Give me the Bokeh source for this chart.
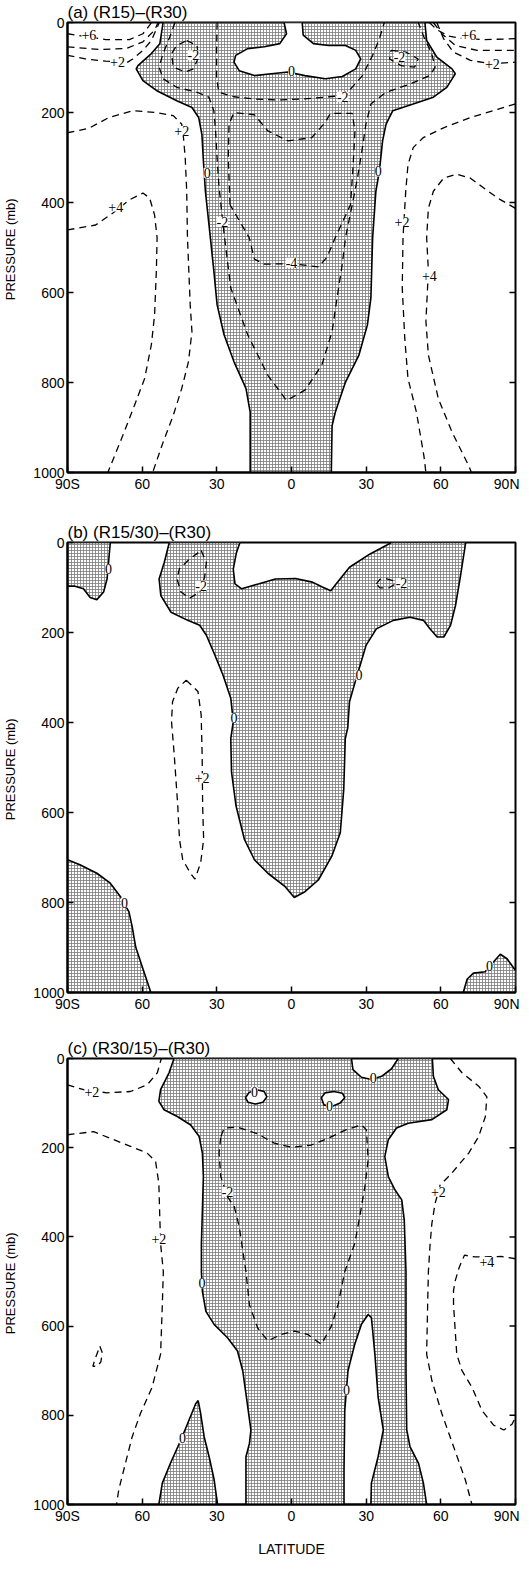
from bokeh.plotting import figure
from bokeh.models import Range1d, LabelSet, ColumnDataSource, FixedTicker
from bokeh.layouts import column
from bokeh.embed import file_html
from bokeh.resources import INLINE

FONT = "Liberation Sans"

lat_ticks = [-90, -60, -30, 0, 30, 60, 90]
lat_tick_labels = ["90S", "60", "30", "0", "30", "60", "90N"]
p_ticks = [0, 200, 400, 600, 800, 1000]
right_ticks = [200, 400, 600, 800]

# ---------------- panel (a) ----------------
a_zero_left_lat = [-51.6, -52.9, -56.3, -61.7, -62.4, -59.7, -54.3, -46.1, -40.0, -37.3, -36.0, -35.3, -34.6, -32.6, -31.2, -29.9, -27.1, -23.1, -18.3, -16.6, -16.6]
a_zero_left_p = [0, 47, 69, 96, 103, 129, 151, 174, 189, 211, 249, 316, 375, 478, 552, 627, 694, 754, 813, 866, 1000]
a_zero_right_lat = [53.6, 54.3, 58.4, 64.5, 65.8, 62.4, 57.0, 48.9, 40.7, 38.0, 36.6, 35.3, 33.9, 32.6, 31.9, 30.5, 27.1, 21.7, 17.6, 16.3, 16.0]
a_zero_right_p = [0, 40, 77, 103, 114, 144, 166, 181, 196, 226, 263, 331, 375, 478, 612, 672, 739, 799, 866, 896, 1000]
a_hole_lat = [-3.0, -2.0, -4.7, -10.9, -17.6, -22.4, -23.1, -21.0, -14.9, -8.1, -1.4, 5.4, 13.6, 20.4, 25.8, 27.8, 25.8, 21.7, 14.9, 8.8, 4.7, 4.3]
a_hole_p = [0, 25, 47, 54, 58, 73, 88, 107, 118, 114, 110, 118, 125, 120, 103, 81, 62, 51, 51, 47, 28, 0]

a_p6L_lat = [-90, -74.6, -65.1, -59.7, -57.0, -56.3]
a_p6L_p = [25, 38, 38, 25, 6, 0]
a_p4L_top_lat = [-90, -77.3, -66.5, -59.7, -55.0, -53.6]
a_p4L_top_p = [54, 60, 58, 43, 17, 0]
a_p2L_top_lat = [-90, -82.8, -74.6, -65.8, -63.8, -59.7, -56.3, -53.9, -53.1]
a_p2L_top_p = [73, 81, 86, 88, 81, 62, 40, 10, 0]
a_p2L_lat = [-90, -81.4, -73.3, -63.8, -54.3, -47.5, -44.1, -43.4, -42.7, -42.1, -41.8, -40.7, -40.0, -41.4, -44.1, -47.5, -51.6, -55.8]
a_p2L_p = [245, 235, 211, 196, 200, 207, 226, 256, 301, 375, 478, 627, 687, 754, 813, 873, 933, 1000]
a_p4L_lat = [-90, -78.7, -71.9, -65.1, -59.7, -57.0, -55.0, -54.0, -54.3, -55.0, -56.3, -59.0, -63.1, -67.8, -73.8]
a_p4L_p = [461, 450, 424, 394, 379, 390, 428, 478, 552, 649, 716, 791, 851, 918, 1000]

a_p6R_lat = [55.4, 58.4, 63.1, 67.9, 72.0, 77.3, 90]
a_p6R_p = [0, 16, 30, 35, 36, 38, 36]
a_p4R_top_lat = [57.0, 60.4, 65.8, 74.6, 90]
a_p4R_top_p = [0, 25, 51, 62, 62]
a_p2R_top_lat = [58.4, 61.1, 65.1, 71.9, 80.1, 90]
a_p2R_top_p = [0, 36, 66, 84, 92, 88]
a_p2R_lat = [90, 82.8, 71.9, 61.1, 52.9, 48.9, 46.8, 45.9, 44.8, 44.5, 45.5, 46.8, 50.2, 53.2, 54.0]
a_p2R_p = [181, 193, 211, 234, 256, 278, 316, 375, 478, 590, 701, 791, 866, 963, 1000]
a_p4R_lat = [90, 82.8, 77.3, 71.9, 66.5, 61.1, 57.0, 55.0, 54.3, 55.0, 54.0, 55.0, 59.0, 64.5, 71.2, 72.3]
a_p4R_p = [413, 390, 368, 346, 337, 346, 375, 413, 478, 552, 664, 739, 836, 910, 985, 1000]

a_m2_loopL_lat = [-42.1, -38.0, -37.3, -39.4, -42.7, -47.5, -48.2, -46.1, -42.1]
a_m2_loopL_p = [40, 51, 77, 103, 110, 99, 69, 51, 40]
a_m2_loopR_lat = [40.0, 46.1, 50.9, 49.5, 44.1, 39.4, 40.0]
a_m2_loopR_p = [62, 66, 81, 99, 96, 81, 62]
a_m2_outer_lat = [-46.8, -48.9, -51.6, -53.2, -51.6, -46.1, -38.0, -33.2, -31.2, -30.5, -29.9, -29.2, -28.2, -26.9, -24.4, -17.6, -9.5, -2.0, 5.4, 12.2, 16.3, 18.3, 20.4, 21.7, 24.4, 26.5, 28.5, 29.9, 31.9, 38.0, 47.5, 55.6, 57.7, 56.3, 53.2, 50.9]
a_m2_outer_p = [0, 32, 69, 99, 125, 144, 155, 166, 196, 241, 301, 360, 413, 478, 590, 694, 784, 840, 817, 761, 687, 612, 537, 478, 405, 346, 278, 226, 181, 155, 137, 118, 99, 69, 32, 0]
a_m2_inner_lat = [-29.9, -30.1, -30.1, -29.2, -23.1, -14.9, -5.4, 4.1, 13.6, 19.0, 23.7, 28.5, 32.6, 35.3, 37.3]
a_m2_inner_p = [0, 62, 122, 155, 165, 170, 172, 170, 166, 163, 148, 118, 73, 36, 0]
a_m4_lat = [-24.7, -25.4, -25.1, -23.1, -14.9, -9.5, -1.4, 8.1, 13.6, 15.6, 24.4, 25.5, 24.7, 23.7, 17.6, 14.2, 10.9, 0, -10.9, -14.9, -17.0, -24.7]
a_m4_p = [405, 301, 226, 200, 205, 241, 263, 256, 222, 202, 202, 241, 323, 405, 478, 522, 543, 536, 537, 526, 478, 405]

a_lab_lat = [-81.4, -69.9, -44.1, -70.6, -33.9, 34.9, 0, -39.4, 43.4, 20.6, -27.8, 71.2, 80.7, 44.4, 55.4, 0]
a_lab_p = [28, 88, 241, 409, 334, 331, 107, 73, 77, 165, 443, 28, 92, 443, 563, 534]
a_lab_txt = ["+6", "+2", "+2", "+4", "0", "0", "0", "-2", "-2", "-2", "-2", "+6", "+2", "+2", "+4", "-4"]

# ---------------- panel (b) ----------------
b_tl_lat = [-90, -72.8, -73.5, -74.1, -75.5, -78.2, -80.9, -83.6, -87.0, -90]
b_tl_p = [0, 0, 44, 81, 110, 127, 122, 103, 97, 97]
b_main_lat = [-49.1, -51.1, -53.2, -52.5, -48.4, -41.7, -36.9, -34.2, -30.8, -27.5, -24.4, -23.4, -24.4, -24.1, -22.3, -18.9, -14.9, -9.5, -2.7, 1.1, 5.4, 10.8, 16.2, 19.6, 21.0, 21.6, 22.6, 23.3, 26.0, 30.0, 34.1, 40.9, 47.6, 53.0, 55.7, 58.5, 61.2, 63.9, 65.9, 67.9, 70.0, 40.2, 31.4, 23.3, 17.9, 15.8, 12.4, 8.4, 1.6, -6.5, -13.3, -20.0, -22.7, -23.4, -22.1, -20.7]
b_main_p = [0, 44, 81, 118, 155, 173, 184, 206, 250, 295, 346, 398, 436, 510, 585, 660, 705, 735, 764, 789, 776, 750, 697, 645, 548, 436, 412, 354, 302, 228, 192, 173, 166, 173, 192, 210, 210, 184, 140, 74, 0, 0, 26, 55, 92, 107, 99, 88, 80, 81, 92, 103, 92, 59, 22, 0]
b_bl_lat = [-90, -85.0, -78.2, -72.8, -68.7, -65.3, -64.0, -62.6, -59.9, -56.5, -90]
b_bl_p = [705, 716, 735, 757, 787, 821, 854, 899, 944, 1000, 1000]
b_br_lat = [69.0, 70.6, 73.1, 77.8, 80.5, 83.9, 86.6, 90, 90]
b_br_p = [1000, 970, 957, 954, 936, 915, 925, 951, 1000]
b_m2L_lat = [-36.3, -34.2, -34.9, -36.9, -41.0, -44.4, -46.0, -45.1, -41.0, -36.3]
b_m2L_p = [18, 44, 77, 110, 124, 110, 81, 59, 37, 18]
b_m2R_lat = [34.1, 35.5, 38.0, 41.0, 41.5, 39.0, 35.5, 34.1]
b_m2R_p = [92, 82, 80, 85, 93, 101, 101, 92]
b_p2_lat = [-42.3, -37.6, -36.3, -35.9, -35.7, -35.3, -36.5, -38.8, -40.6, -43.7, -45.0, -45.7, -47.1, -48.2, -47.8, -45.7, -42.3]
b_p2_p = [306, 331, 383, 473, 585, 660, 712, 748, 735, 705, 660, 585, 473, 398, 354, 324, 306]
b_lab_lat = [-73.5, -36.3, 44.2, -23.1, 27.1, -35.9, -67.1, 79.6]
b_lab_p = [59, 96, 90, 390, 295, 524, 800, 940]
b_lab_txt = ["0", "-2", "-2", "0", "0", "+2", "0", "0"]

# ---------------- panel (c) ----------------
c_main_lat = [-47.2, 24.1, 24.7, 28.1, 32.1, 36.2, 40.2, 42.9, 56.6, 57.0, 59.0, 63.1, 62.4, 56.4, 46.9, 42.2, 38.9, 37.5, 38.9, 41.6, 44.3, 45.3, 46.0, 46.0, 46.3, 47.6, 51.0, 53.0, 54.3, 31.9, 32.1, 34.8, 36.9, 34.8, 33.5, 32.1, 30.8, 28.1, 25.4, 22.7, 21.4, 21.1, 21.1, -18.3, -18.3, -16.9, -16.3, -18.3, -19.6, -21.7, -25.7, -31.1, -34.4, -35.8, -36.2, -36.2, -35.8, -35.4, -35.8, -37.1, -40.5, -45.9, -51.2, -53.3, -52.6, -49.2]
c_main_p = [0, 0, 25, 42, 47, 40, 23, 0, 0, 40, 70, 92, 115, 137, 145, 156, 182, 220, 265, 295, 317, 362, 478, 700, 833, 870, 907, 952, 1000, 1000, 952, 893, 833, 759, 663, 581, 574, 596, 641, 700, 789, 922, 1000, 1000, 893, 863, 833, 752, 700, 656, 626, 596, 567, 522, 478, 415, 340, 265, 212, 175, 149, 130, 115, 96, 70, 32]
c_spike_lat = [-53.3, -51.9, -48.6, -44.5, -41.2, -38.5, -37.5, -36.5, -35.1, -33.1, -31.1, -29.7]
c_spike_p = [1000, 952, 907, 856, 811, 774, 767, 796, 848, 893, 944, 1000]
c_hole1_lat = [-18.5, -17.0, -14.0, -11.0, -9.9, -11.5, -14.5, -17.5, -18.5]
c_hole1_p = [88, 76, 70, 74, 86, 98, 102, 98, 88]
c_hole2_lat = [12.0, 13.5, 17.0, 20.5, 21.4, 19.5, 16.0, 13.0, 12.0]
c_hole2_p = [88, 77, 74, 78, 88, 100, 108, 104, 88]
c_p2_top_lat = [-90, -83.5, -74.1, -64.7, -58.0, -53.9, -52.3]
c_p2_top_p = [59, 70, 77, 74, 59, 32, 0]
c_p2L_lat = [-90, -79.5, -72.8, -64.7, -58.0, -54.6, -53.3, -53.0, -52.6, -51.5, -51.9, -52.6, -56.0, -60.7, -64.0, -66.7, -69.4, -70.3]
c_p2L_p = [171, 164, 179, 197, 212, 231, 280, 340, 415, 478, 552, 663, 737, 796, 848, 907, 967, 1000]
c_small_lat = [-77.0, -76.0, -76.6, -78.0, -79.8, -79.0, -77.0]
c_small_p = [645, 660, 680, 690, 690, 675, 645]
c_m2_lat = [-28.4, -27.0, -21.7, -13.6, -6.9, -0.1, 7.9, 14.7, 21.4, 28.1, 30.1, 30.8, 29.5, 27.4, 25.4, 21.4, 18.7, 16.0, 12.0, 6.6, 1.2, -4.2, -9.5, -13.6, -16.9, -18.3, -19.6, -21.0, -23.0, -25.7, -28.4, -29.1, -28.4]
c_m2_p = [175, 156, 154, 169, 190, 199, 194, 179, 161, 149, 160, 227, 287, 355, 415, 478, 552, 600, 641, 619, 611, 619, 633, 604, 552, 478, 430, 377, 332, 310, 265, 212, 175]
c_p2R_lat = [63.8, 68.5, 75.2, 78.5, 77.9, 75.2, 71.2, 64.4, 59.7, 57.7, 56.4, 55.7, 55.0, 54.7, 54.3, 56.4, 60.4, 65.1, 69.8, 72.5]
c_p2R_p = [0, 32, 62, 86, 130, 175, 212, 257, 284, 325, 370, 415, 478, 552, 663, 722, 796, 870, 944, 1000]
c_p4R_lat = [90, 84.6, 73.8, 69.5, 67.4, 65.8, 65.1, 65.1, 66.4, 68.5, 72.5, 76.5, 81.2, 85.3, 88.6, 90]
c_p4R_p = [449, 444, 445, 441, 468, 498, 520, 552, 663, 700, 737, 789, 822, 833, 820, 804]
c_lab_lat = [32.8, -14.9, 15.3, -36.0, 22.1, -43.8, -80.2, -53.3, 59.0, 78.5, -25.7]
c_lab_p = [44, 75, 107, 504, 744, 852, 74, 404, 299, 456, 299]
c_lab_txt = ["0", "0", "0", "0", "0", "0", "+2", "+2", "+2", "+4", "-2"]

SHADE = dict(fill_color="white", hatch_pattern="cross", hatch_scale=3.0,
             hatch_color="#7a7a7a", hatch_weight=0.8, line_color="black", line_width=1.6)
HOLE = dict(fill_color="white", line_color="black", line_width=1.6)
DASH = dict(line_color="black", line_width=1.3, line_dash="7 5")


def make_fig(title, fh, top, bottom, xlabel=None):
    p = figure(frame_width=448, frame_height=fh, x_range=Range1d(-90, 90),
               y_range=Range1d(1000, 0), output_backend="svg", toolbar_location=None,
               min_border_left=60, min_border_right=4, min_border_top=top,
               min_border_bottom=bottom, title=title)
    p.title.text_font = FONT
    p.title.text_font_size = "17px"
    p.title.text_font_style = "normal"
    p.title.text_color = "black"
    p.title.align = "left"
    p.title.offset = 0
    p.title.standoff = 1
    p.grid.visible = False
    p.outline_line_color = "black"
    p.outline_line_width = 2
    p.xaxis.ticker = FixedTicker(ticks=lat_ticks)
    p.xaxis.major_label_overrides = {t: s for t, s in zip(lat_ticks, lat_tick_labels)}
    p.yaxis.ticker = FixedTicker(ticks=p_ticks)
    for ax in (p.xaxis[0], p.yaxis[0]):
        ax.major_tick_in = 6
        ax.major_tick_out = 0
        ax.minor_tick_line_color = None
        ax.axis_line_width = 2
        ax.major_tick_line_width = 1.5
        ax.major_label_text_font = FONT
        ax.major_label_text_font_size = "14px"
        ax.major_label_text_color = "black"
        ax.major_label_standoff = 3
    p.yaxis.axis_label = "PRESSURE  (mb)"
    p.yaxis.axis_label_text_font = FONT
    p.yaxis.axis_label_text_font_size = "13px"
    p.yaxis.axis_label_text_font_style = "normal"
    p.yaxis.axis_label_text_color = "black"
    p.yaxis.axis_label_standoff = 12
    if xlabel:
        p.xaxis.axis_label = xlabel
        p.xaxis.axis_label_text_font = FONT
        p.xaxis.axis_label_text_font_size = "14px"
        p.xaxis.axis_label_text_font_style = "normal"
        p.xaxis.axis_label_text_color = "black"
        p.xaxis.axis_label_standoff = 14
    # inward tick marks on the right-hand frame edge, at the pressure tick values
    tick_len = 180.0 * 6 / 448
    p.segment(x0=[90] * len(right_ticks), y0=right_ticks,
              x1=[90 - tick_len] * len(right_ticks), y1=right_ticks,
              line_color="black", line_width=1.5)
    return p


def labels(p, xs, ys, ts):
    src = ColumnDataSource(dict(x=xs, y=ys, t=ts))
    p.add_layout(LabelSet(x="x", y="y", text="t", source=src, text_align="center",
                          text_baseline="middle", text_font=FONT, text_font_size="14px",
                          text_color="black", background_fill_color="white"))


# panel a
pa = make_fig("(a)  (R15)\u2013(R30)", 450, 22, 28)
pa.patch(a_zero_left_lat + a_zero_right_lat[::-1], a_zero_left_p + a_zero_right_p[::-1], **SHADE)
pa.patch(a_hole_lat, a_hole_p, **HOLE)
for xs, ys in [(a_p6L_lat, a_p6L_p), (a_p4L_top_lat, a_p4L_top_p), (a_p2L_top_lat, a_p2L_top_p),
               (a_p2L_lat, a_p2L_p), (a_p4L_lat, a_p4L_p), (a_p6R_lat, a_p6R_p),
               (a_p4R_top_lat, a_p4R_top_p), (a_p2R_top_lat, a_p2R_top_p), (a_p2R_lat, a_p2R_p),
               (a_p4R_lat, a_p4R_p), (a_m2_loopL_lat, a_m2_loopL_p), (a_m2_loopR_lat, a_m2_loopR_p),
               (a_m2_outer_lat, a_m2_outer_p), (a_m2_inner_lat, a_m2_inner_p), (a_m4_lat, a_m4_p)]:
    pa.line(xs, ys, **DASH)
labels(pa, a_lab_lat, a_lab_p, a_lab_txt)

# panel b
pb = make_fig("(b)  (R15/30)\u2013(R30)", 450, 42, 24)
for xs, ys in [(b_tl_lat, b_tl_p), (b_main_lat, b_main_p), (b_bl_lat, b_bl_p), (b_br_lat, b_br_p)]:
    pb.patch(xs, ys, **SHADE)
for xs, ys in [(b_m2L_lat, b_m2L_p), (b_m2R_lat, b_m2R_p), (b_p2_lat, b_p2_p)]:
    pb.line(xs, ys, **DASH)
labels(pb, b_lab_lat, b_lab_p, b_lab_txt)

# panel c
pc = make_fig("(c)  (R30/15)\u2013(R30)", 446, 42, 50, xlabel="LATITUDE")
pc.patch(c_main_lat, c_main_p, **SHADE)
pc.patch(c_spike_lat, c_spike_p, **SHADE)
pc.patch(c_hole1_lat, c_hole1_p, **HOLE)
pc.patch(c_hole2_lat, c_hole2_p, **HOLE)
for xs, ys in [(c_p2_top_lat, c_p2_top_p), (c_p2L_lat, c_p2L_p), (c_small_lat, c_small_p),
               (c_m2_lat, c_m2_p), (c_p2R_lat, c_p2R_p), (c_p4R_lat, c_p4R_p)]:
    pc.line(xs, ys, **DASH)
labels(pc, c_lab_lat, c_lab_p, c_lab_txt)

layout = column(pa, pb, pc, spacing=0)
open("out.html", "w").write(file_html(layout, INLINE))
